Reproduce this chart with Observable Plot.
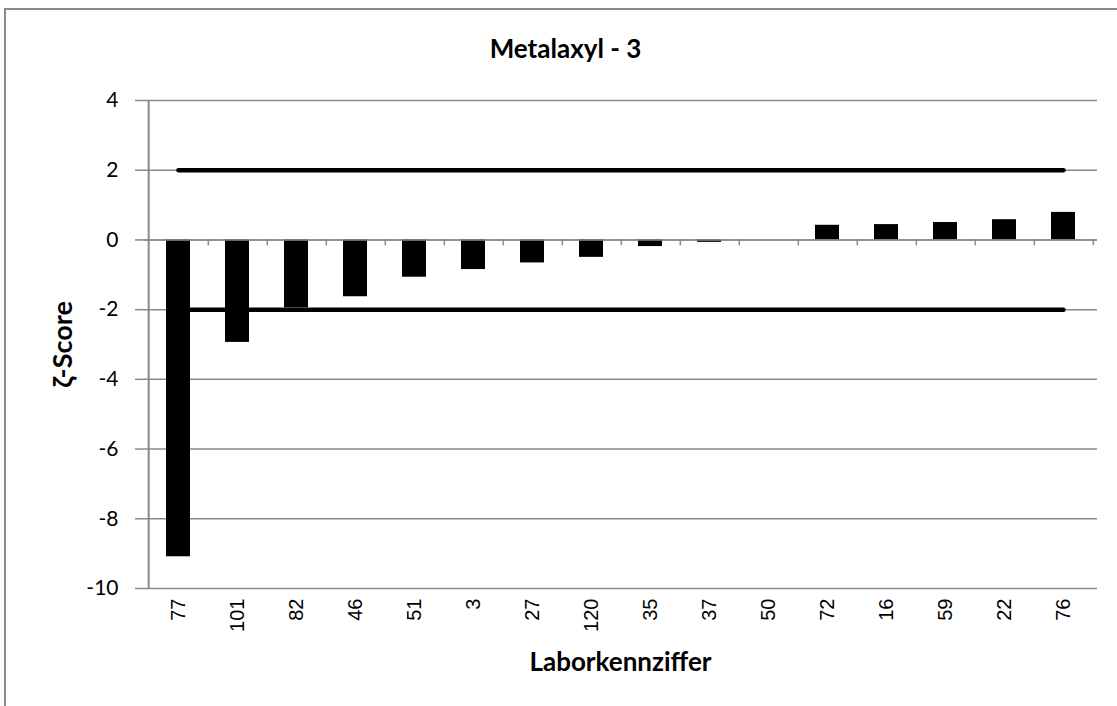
<!DOCTYPE html>
<html>
<head>
<meta charset="utf-8">
<script src="https://cdn.jsdelivr.net/npm/d3@7"></script>
<script src="https://cdn.jsdelivr.net/npm/@observablehq/plot@0.6"></script>
<style>
  html, body { margin: 0; padding: 0; background: #fff; overflow: hidden; }
  #wrap { position: relative; width: 1117px; height: 706px; overflow: hidden; }
  .bline { position: absolute; background: #8a8a8a; pointer-events: none; }
  #btop { left: 4px; top: 8px; width: 1113px; height: 2px; }
  #bleft { left: 4px; top: 8px; width: 2px; height: 698px; }
</style>
</head>
<body>
<div id="wrap"><div class="bline" id="btop"></div><div class="bline" id="bleft"></div></div>
<script>
const labs = ["77","101","82","46","51","3","27","120","35","37","50","72","16","59","22","76"];
const scores = [-9.09,-2.94,-1.95,-1.63,-1.07,-0.85,-0.66,-0.50,-0.19,-0.07,0,0.42,0.44,0.50,0.58,0.79];
const upperLimit = 2;
const lowerLimit = -2;
const yTicks = [-10,-8,-6,-4,-2,0,2,4];
const titleText = "Metalaxyl - 3";
const xTitle = "Laborkennziffer";
const yTitle = "ζ-Score";

const data = labs.map((l, i) => ({lab: l, score: scores[i]}));
const upper = labs.map(l => ({lab: l, v: upperLimit}));
const lower = labs.map(l => ({lab: l, v: lowerLimit}));

const W = 1117, H = 706, mL = 143, mR = 20, mT = 100, mB = 118;
const step = (W - mL - mR) / labs.length;
const grid = "#8a8a8a";
const calibri = "Lato, 'Open Sans', sans-serif";

const chart = Plot.plot({
  width: W, height: H,
  marginLeft: mL, marginRight: mR, marginTop: mT, marginBottom: mB,
  style: {background: "transparent"},
  x: {type: "band", domain: labs, paddingInner: 0.6, paddingOuter: 0.3, label: null},
  y: {domain: [-10, 4], label: null},
  marks: [
    Plot.ruleY(yTicks, {stroke: grid, strokeWidth: 1.5}),
    Plot.ruleX([labs[0]], {dx: -step / 2, stroke: grid, strokeWidth: 2}),
    Plot.barY(data, {x: "lab", y: "score", fill: "#000"}),
    Plot.ruleY([0], {stroke: grid, strokeWidth: 1.5}),
    Plot.ruleX(labs, {x: d => d, y1: 0, y2: -0.17, dx: step / 2, stroke: grid, strokeWidth: 1.5}),
    Plot.line(upper, {x: "lab", y: "v", stroke: "#000", strokeWidth: 4.5, strokeLinecap: "round"}),
    Plot.line(lower, {x: "lab", y: "v", stroke: "#000", strokeWidth: 4.5, strokeLinecap: "round"}),
    Plot.axisY({ticks: yTicks, tickFormat: d => String(d), tickSize: 8, tickPadding: 17,
                stroke: grid, strokeWidth: 1.5,
                fontSize: 21, fontFamily: calibri, fill: "#000", label: null}),
    Plot.axisX({tickSize: 0, tickRotate: -90, tickPadding: 10, fontSize: 20,
                fontFamily: "'Liberation Sans', Arial, sans-serif", fill: "#000", label: null}),
    Plot.text([titleText], {frameAnchor: "top", lineAnchor: "middle", dx: -55, dy: -51, text: d => d,
                fontSize: 26, fontWeight: "bold", fontFamily: calibri, fill: "#000"}),
    Plot.text([xTitle], {frameAnchor: "bottom", lineAnchor: "middle", dy: 74, text: d => d,
                fontSize: 26, fontWeight: "bold", fontFamily: calibri, fill: "#000"}),
    Plot.text([yTitle], {frameAnchor: "left", textAnchor: "middle", lineAnchor: "middle", dx: -80, rotate: -90,
                text: d => d, fontSize: 27, fontWeight: "bold", fontFamily: calibri, fill: "#000"})
  ]
});
document.getElementById("wrap").insertBefore(chart, document.getElementById("btop"));
</script>
</body>
</html>
